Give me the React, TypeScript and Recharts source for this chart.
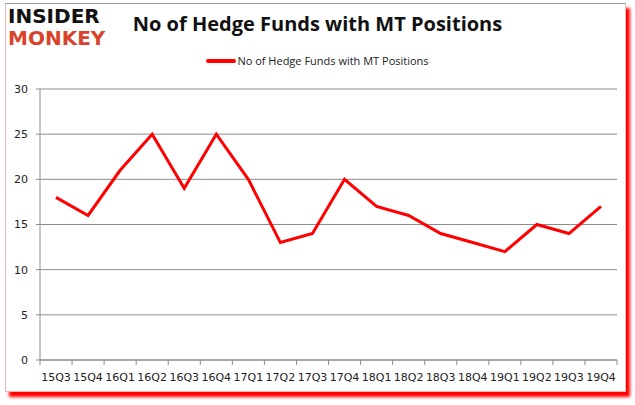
import React from "react";
import { LineChart, Line, XAxis, YAxis, CartesianGrid } from "recharts";

const quarters = ["15Q3","15Q4","16Q1","16Q2","16Q3","16Q4","17Q1","17Q2","17Q3","17Q4","18Q1","18Q2","18Q3","18Q4","19Q1","19Q2","19Q3","19Q4"];
const funds = [18,16,21,25,19,25,20,13,14,20,17,16,14,13,12,15,14,17];
const yTicks = [0,5,10,15,20,25,30];
const seriesName = "No of Hedge Funds with MT Positions";

const data = quarters.map((q, i) => ({ q, v: funds[i] }));

const BAND = 32;
const AXIS_Y = 360;

const XTick = (props: any) => {
  const { x, y, payload, index } = props;
  const isLast = index === quarters.length - 1;
  return (
    <g>
      <line x1={x - BAND / 2} x2={x - BAND / 2} y1={AXIS_Y} y2={AXIS_Y + 5} stroke="#8c8c8c" />
      {isLast && <line x1={x + BAND / 2} x2={x + BAND / 2} y1={AXIS_Y} y2={AXIS_Y + 5} stroke="#8c8c8c" />}
      <text x={x} y={y} dy={12} textAnchor="middle" fill="#222" fontSize={11} fontFamily="'DejaVu Sans', sans-serif">
        {payload.value}
      </text>
    </g>
  );
};

export default function App() {
  return (
    <div style={{ position: "absolute", left: 0, top: 0, width: 635, height: 405, background: "#fff", overflow: "hidden" }}>
      <div style={{ position: "absolute", left: 5, top: 3, width: 619, height: 387, border: "1px solid #e8b8b8", borderTopColor: "#999", boxShadow: "4px 5px 3px #ff0000", background: "#fff" }} />
      <div style={{ position: "absolute", left: 8, top: 5, fontFamily: "'DejaVu Sans', sans-serif", fontWeight: 900, fontSize: 20, lineHeight: "22px", letterSpacing: 0 }}>
        <div style={{ color: "#111" }}>INSIDER</div>
        <div style={{ color: "#d9432b" }}>MONKEY</div>
      </div>
      <div style={{ position: "absolute", left: 0, width: 635, top: 10, textAlign: "center", fontFamily: "'Open Sans', sans-serif", fontWeight: 700, fontSize: 20, color: "#111" }}>
        {seriesName}
      </div>
      <div style={{ position: "absolute", left: 0, width: 635, top: 53, display: "flex", justifyContent: "center", alignItems: "center", fontFamily: "'Open Sans', sans-serif", fontSize: 11, color: "#222" }}>
        <span style={{ display: "inline-block", width: 30, height: 4, background: "#ff0000", borderRadius: 2, marginRight: 1 }} />
        <span>{seriesName}</span>
      </div>
      <div style={{ position: "absolute", left: 0, top: 0 }}>
        <LineChart width={635} height={405} data={data} margin={{ top: 89, right: 18, bottom: 15, left: 0 }}>
          <CartesianGrid vertical={false} stroke="#8c8c8c" strokeWidth={1} />
          <XAxis dataKey="q" stroke="#8c8c8c" tickLine={false} tickSize={5} height={30} interval={0} padding={{ left: 16, right: 16 }}
            tick={<XTick />} tickMargin={4} />
          <YAxis domain={[0, 30]} ticks={yTicks} width={40} stroke="#8c8c8c" tickSize={4} tickMargin={8}
            tick={{ fill: "#222", fontSize: 11, fontFamily: "'DejaVu Sans', sans-serif" }} />
          <Line dataKey="v" name={seriesName} stroke="#ff0000" strokeWidth={3} dot={false} isAnimationActive={false} />
        </LineChart>
      </div>
    </div>
  );
}
